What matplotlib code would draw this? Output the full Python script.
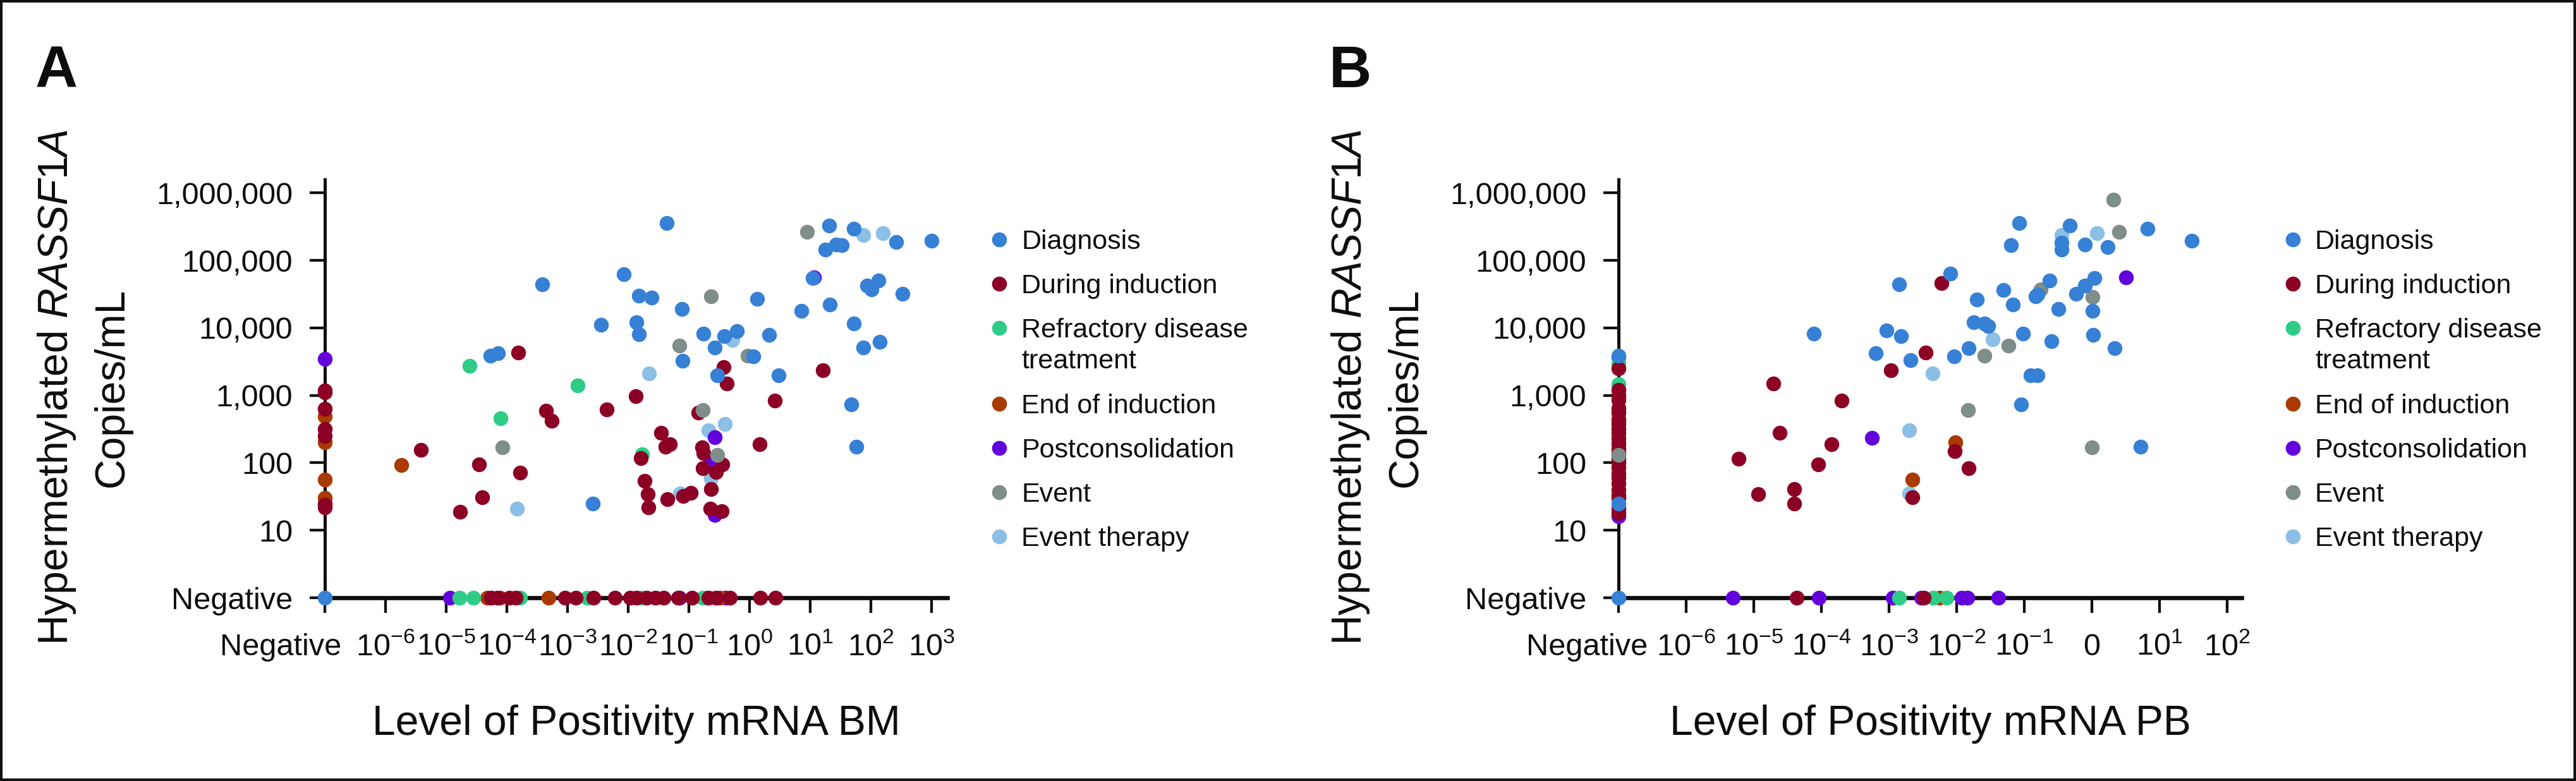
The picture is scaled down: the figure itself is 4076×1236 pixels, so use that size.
import numpy as np
import matplotlib
matplotlib.use("Agg")
import matplotlib.pyplot as plt
from matplotlib.lines import Line2D
from matplotlib.patches import Rectangle
from matplotlib.ticker import NullLocator
from matplotlib.transforms import ScaledTranslation

plt.rcParams["font.family"] = ["Liberation Sans", "DejaVu Sans"]
plt.rcParams["mathtext.fontset"] = "custom"
plt.rcParams["mathtext.rm"] = "Liberation Sans"
plt.rcParams["mathtext.it"] = "Liberation Sans:italic"
plt.rcParams["mathtext.bf"] = "Liberation Sans:bold"

W, H, DPI = 4076, 1236, 100
INK = "#0d0d0d"

categories = ["Diagnosis", "During induction", "Refractory disease\ntreatment",
              "End of induction", "Postconsolidation", "Event", "Event therapy"]
colors = ["#3680d6", "#8c0025", "#2ecc87", "#a83a02", "#6402dc", "#7f8d8b", "#8bbfe6"]
draw_order = [6, 4, 3, 2, 1, 5, 0]  # bottom -> top

ytick_vals = [1, 10, 100, 1e3, 1e4, 1e5, 1e6]
ytick_labels = ["Negative", "10", "100", "1,000", "10,000", "100,000", "1,000,000"]
bm_xlabels = ["Negative", "$10^{-6}$", "$10^{-5}$", "$10^{-4}$", "$10^{-3}$", "$10^{-2}$",
              "$10^{-1}$", "$10^{0}$", "$10^{1}$", "$10^{2}$", "$10^{3}$"]
pb_xlabels = ["Negative", "$10^{-6}$", "$10^{-5}$", "$10^{-4}$", "$10^{-3}$", "$10^{-2}$",
              "$10^{-1}$", "0", "$10^{1}$", "$10^{2}$"]

# (mRNA level, RASSF1A copies/mL); 0 = Negative
bm_diagnosis = [(0, 0), (5.4e-5, 3900), (7.2e-5, 4200), (3.8e-4, 44000), (3.6e-3, 11000),
                (2.6e-3, 25), (8.5e-3, 63000), (1.5e-2, 30000), (1.35e-2, 12000), (1.5e-2, 8100),
                (4.3e-2, 357000), (20.7, 325000), (52, 297000), (17.7, 146000), (27, 171000),
                (33, 167000), (263, 186000), (1000, 195000), (11, 55000), (87, 42000),
                (133, 50700), (102, 37300), (331, 32000), (2.4e-2, 28000), (7.6e-2, 19000),
                (1.34, 26700), (7.1, 17800), (21, 22400), (52, 11700), (0.175, 8300),
                (0.38, 7600), (0.62, 9000), (0.27, 5100), (2.1, 7900), (1.15, 3800),
                (0.079, 3270), (75, 5100), (141, 6240), (0.295, 2000), (3.0, 2000),
                (48, 740), (57, 174)]
bm_induction = [(0, 1170), (0, 1100), (0, 630), (0, 320), (0, 250), (0, 24), (0, 22),
                (3.8e-6, 155), (1.55e-4, 4300), (3.5e-5, 94), (1.66e-4, 71), (3.9e-5, 31),
                (1.7e-5, 18.6), (4.4e-4, 590), (5.5e-4, 420), (4.4e-3, 615), (1.33e-2, 980),
                (1.6e-2, 118), (0.37, 2600), (0.42, 1490), (16, 2350), (2.6, 840),
                (0.143, 560), (0.035, 277), (0.041, 175), (0.049, 190), (0.166, 168),
                (0.175, 141), (0.355, 94), (0.168, 83), (0.28, 73), (1.46, 188),
                (0.0186, 54), (0.021, 34), (0.0214, 22), (0.044, 29), (0.08, 32),
                (0.108, 36), (0.23, 41), (0.224, 21), (0.35, 19),
                (5.5e-5, 0), (6.9e-5, 0), (1.1e-4, 0), (1.4e-4, 0), (9.1e-4, 0), (1.35e-3, 0),
                (2.7e-3, 0), (6.0e-3, 0), (1.07e-2, 0), (1.35e-2, 0), (2.0e-2, 0), (2.8e-2, 0),
                (3.8e-2, 0), (6.7e-2, 0), (0.113, 0), (0.21, 0), (0.28, 0), (0.475, 0),
                (1.5, 0), (2.7, 0)]
bm_refractory = [(2.4e-5, 2750), (7.9e-5, 460), (1.45e-3, 1390), (1.7e-2, 134),
                 (1.64e-5, 0), (2.8e-5, 0), (1.66e-4, 0), (2.1e-3, 0), (1.66e-2, 0),
                 (0.168, 0), (0.19, 0)]
bm_end_induction = [(0, 490), (0, 200), (0, 57), (0, 30), (1.8e-6, 92),
                    (4.8e-5, 0), (7.6e-5, 0), (4.9e-4, 0), (0.32, 0)]
bm_postconsol = [(0, 3500), (0, 25), (0.27, 238), (0.224, 100), (0.27, 17), (11.6, 56000),
                 (1.15e-5, 0), (0.07, 0), (0.4, 0)]
bm_event = [(8.5e-5, 168), (8.8, 265000), (0.23, 29500), (0.07, 5500), (0.94, 3870),
            (0.168, 600), (0.295, 131)]
bm_event_therapy = [(1.45e-4, 21), (0.022, 2100), (75, 236000), (158, 251000), (0.52, 6600),
                    (0.21, 305), (0.39, 378), (0.23, 59), (0.071, 35)]

pb_diagnosis = [(0, 0), (0, 3900), (0, 25), (7.8e-5, 8300), (6.3e-4, 4200), (9.1e-4, 9100),
                (1.5e-3, 7600), (2.1e-3, 3300), (1.4e-3, 44000), (0.085, 357000),
                (0.47, 325000), (0.355, 182000), (0.355, 144000), (0.063, 167000),
                (0.79, 173000), (1.7, 158000), (6.6, 297000), (30, 195000), (8.1e-3, 64000),
                (0.234, 50700), (1.1, 55000), (0.79, 42000), (0.59, 32000), (0.148, 29400),
                (0.158, 31000), (0.049, 36600), (0.02, 26500), (0.068, 22400), (0.32, 19000),
                (1.02, 17800), (0.0178, 12000), (0.026, 11700), (0.0295, 10700),
                (0.095, 8300), (0.25, 6300), (1.05, 7850), (2.16, 5000), (0.015, 5000),
                (0.0091, 3800), (0.123, 2000), (0.158, 2000), (0.089, 740), (5.2, 174)]
pb_induction = [(0, 2500), (0, 1200), (0, 1000), (0, 850), (0, 650), (0, 550), (0, 450),
                (0, 380), (0, 320), (0, 270), (0, 230), (0, 190), (0, 160), (0, 140),
                (0, 115), (0, 100), (0, 85), (0, 70), (0, 60), (0, 50), (0, 40), (0, 33),
                (0, 30), (0, 21), (0, 18),
                (6.0e-6, 115), (1.17e-5, 34), (1.95e-5, 1480), (2.4e-5, 280), (4.0e-5, 41),
                (4.0e-5, 25), (8.9e-5, 95), (1.4e-4, 187), (2.0e-4, 830), (1.07e-3, 2340),
                (3.5e-3, 4300), (2.2e-3, 31), (6.0e-3, 46000), (9.3e-3, 150), (0.015, 84),
                (4.3e-5, 0), (3.3e-3, 0)]
pb_refractory = [(0, 3000), (0, 1450), (0, 420), (1.4e-3, 0), (4.5e-3, 0), (7.1e-3, 0)]
pb_end_induction = [(2.2e-3, 57), (9.5e-3, 200), (0, 130), (5.6e-3, 0)]
pb_postconsol = [(5.6e-4, 235), (3.2, 56000), (0, 3700), (0, 16),
                 (4.9e-6, 0), (9.1e-5, 0), (1.15e-3, 0), (3.0e-3, 0), (0.012, 0),
                 (0.0145, 0), (0.041, 0)]
pb_event = [(2.1, 795000), (2.5, 265000), (1.02, 29000), (0.174, 37300), (0.058, 5460),
            (0.026, 3870), (0.0148, 600), (1.0, 168), (0, 132)]
pb_event_therapy = [(4.4e-3, 2100), (2.0e-3, 305), (2.0e-3, 35), (0.355, 236000),
                    (1.2, 251000), (0.034, 6700), (0, 200)]

bm_series = [bm_diagnosis, bm_induction, bm_refractory, bm_end_induction,
             bm_postconsol, bm_event, bm_event_therapy]
pb_series = [pb_diagnosis, pb_induction, pb_refractory, pb_end_induction,
             pb_postconsol, pb_event, pb_event_therapy]

NEG_X, NEG_Y = 1e-7, 1.0


def fx(p):
    return p / W


def fy(p):
    return 1 - p / H


fig = plt.figure(figsize=(W / DPI, H / DPI), dpi=DPI)


def draw_panel(left, right, xmax, series, xlabels, neg_shift, letter, xlabel):
    top, bottom = 284, 946
    ax = fig.add_axes([fx(left), fy(bottom), (right - left) / W, (bottom - top) / H])
    for z, i in enumerate(draw_order):
        pts = np.array(series[i], dtype=float)
        x = np.where(pts[:, 0] > 0, pts[:, 0], NEG_X)
        y = np.where(pts[:, 1] > 0, pts[:, 1], NEG_Y)
        ax.scatter(x, y, s=285, color=colors[i], linewidths=0, clip_on=False, zorder=3 + z)

    ax.set_xscale("log")
    ax.set_yscale("log")
    ax.set_xlim(NEG_X, xmax)
    ax.set_ylim(NEG_Y, 10 ** 6.2)
    xt = [NEG_X] + [10.0 ** k for k in range(-6, -6 + len(xlabels) - 1)]
    ax.set_xticks(xt, xlabels)
    ax.set_yticks(ytick_vals, ytick_labels)
    ax.xaxis.set_minor_locator(NullLocator())
    ax.yaxis.set_minor_locator(NullLocator())
    for s in ("top", "right"):
        ax.spines[s].set_visible(False)
    ax.spines["left"].set_linewidth(3.6)
    ax.spines["bottom"].set_linewidth(4.8)
    ax.spines["left"].set_color(INK)
    ax.spines["bottom"].set_color(INK)
    ax.tick_params(length=17, width=3.1, color=INK, labelsize=35, labelcolor=INK)
    ax.tick_params(axis="x", pad=48.3)
    ax.tick_params(axis="y", pad=19.7)
    for lab in ax.get_xticklabels():
        lab.set_verticalalignment("baseline")
    first = ax.get_xticklabels()[0]
    first.set_horizontalalignment("right")
    first.set_transform(first.get_transform()
                        + ScaledTranslation(neg_shift / DPI, 0, fig.dpi_scale_trans))

    # axis titles
    fig.text(fx(left - 424), fy(613), "Hypermethylated $\\mathit{RASSF1A}$",
             rotation=90, ha="center", va="center", fontsize=47.5, color=INK)
    fig.text(fx(left - 336), fy(613), "Copies/mL",
             rotation=90, ha="center", va="center", fontsize=47.5, color=INK)
    fig.text(fx((left + right) / 2), fy(1163), xlabel,
             ha="center", va="baseline", fontsize=47.5, color=INK)
    fig.text(fx(left - 458), fy(138), letter, ha="left", va="baseline",
             fontsize=67, fontweight="bold", color=INK)

    # legend
    mx = left + 1067
    row = 379
    for i, name in enumerate(categories):
        fig.add_artist(Line2D([fx(mx)], [fy(row)], transform=fig.transFigure,
                              marker="o", ls="", markersize=17, markeredgewidth=0,
                              color=colors[i]))
        for k, line in enumerate(name.split("\n")):
            fig.text(fx(mx + 35), fy(row + 15 + 49 * k), line, ha="left",
                     va="baseline", fontsize=31, color=INK)
        row += 70 + 50 * (name.count("\n"))
    return ax


draw_panel(514, 1499, 10 ** 3.26, bm_series, bm_xlabels, 26, "A",
           "Level of Positivity mRNA BM")
draw_panel(2561, 3547, 10 ** 2.215, pb_series, pb_xlabels, 46, "B",
           "Level of Positivity mRNA PB")

fig.add_artist(Rectangle((0, 0), 1, 1, transform=fig.transFigure, fill=False,
                         lw=5.8, ec="#111111"))

fig.savefig("out.png", dpi=DPI)
